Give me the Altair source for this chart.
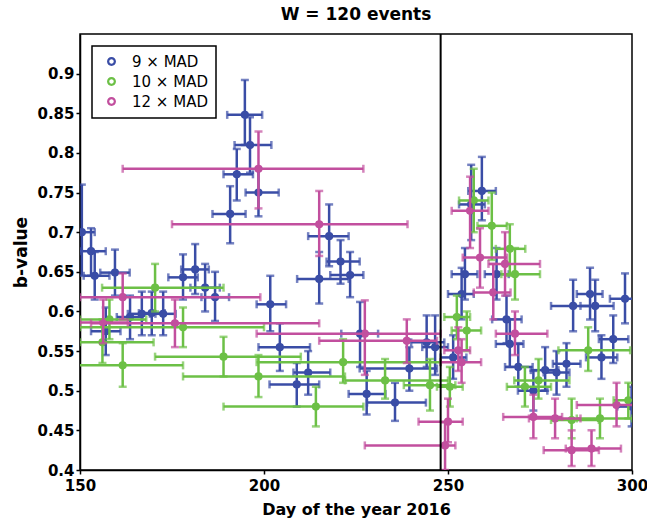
import altair as alt
import pandas as pd

SERIES = ["9 × MAD", "10 × MAD", "12 × MAD"]
COLORS = ["#3a4da6", "#6cc046", "#c24f9e"]
EVENT_DAY = 248

# ---- 9 x MAD (blue) ----
blue_day = [150.5, 153.0, 154.0, 159.5, 157.0, 163.6, 166.8, 169.5, 172.6, 178.0, 181.3, 184.0, 186.7,
            190.8, 192.6, 194.8, 196.2, 198.5, 201.7, 204.3, 208.9, 212.0, 215.0, 217.7, 220.8, 223.4,
            226.1, 227.9, 235.6, 239.5, 244.2, 246.5, 251.4, 253.7, 254.6, 256.3, 259.2, 263.2, 265.9,
            266.8, 269.1, 273.2, 276.4, 279.5, 282.2, 284.0, 288.6, 290.0, 291.7, 294.9, 298.1, 299.9]
blue_b = [0.700, 0.676, 0.645, 0.649, 0.575, 0.593, 0.597, 0.598, 0.597, 0.643, 0.653, 0.630, 0.618,
          0.723, 0.773, 0.848, 0.810, 0.750, 0.609, 0.555, 0.508, 0.523, 0.641, 0.695, 0.663, 0.646,
          0.572, 0.496, 0.485, 0.528, 0.561, 0.555, 0.542, 0.622, 0.647, 0.735, 0.752, 0.647, 0.590,
          0.559, 0.530, 0.500, 0.526, 0.523, 0.534, 0.607, 0.622, 0.607, 0.542, 0.565, 0.616, 0.480]
blue_day_lo = [147, 150, 151, 155.5, 153, 160, 163, 166, 169, 174, 177.5, 180, 183,
               186, 189, 190, 192, 195, 198, 198.5, 201.5, 208, 209, 212, 217, 218,
               221, 223, 228, 226, 240, 243, 248, 250, 251, 253, 255.5, 260, 262,
               263, 265.5, 269, 272.5, 276, 278.5, 278, 285, 286, 287.5, 291, 294, 296]
blue_day_hi = [154, 157, 158, 163.5, 161, 167, 170.5, 173, 176, 182, 185, 188, 190.5,
               195, 197, 199.5, 202, 204, 206, 212.5, 215, 218, 223, 223, 226, 227,
               231, 233, 244, 247, 249, 250, 255, 257, 258, 260, 263, 266.5, 270,
               270.5, 273, 277, 280, 283, 286, 290, 292, 295, 296, 299, 302, 303]
blue_b_lo = [0.645, 0.645, 0.615, 0.620, 0.545, 0.565, 0.570, 0.570, 0.570, 0.615, 0.622, 0.600, 0.588,
             0.686, 0.740, 0.810, 0.775, 0.720, 0.575, 0.525, 0.480, 0.495, 0.610, 0.657, 0.635, 0.618,
             0.530, 0.470, 0.462, 0.500, 0.530, 0.520, 0.515, 0.590, 0.615, 0.690, 0.715, 0.615, 0.560,
             0.530, 0.505, 0.475, 0.500, 0.495, 0.505, 0.575, 0.590, 0.575, 0.515, 0.535, 0.585, 0.455]
blue_b_hi = [0.760, 0.705, 0.675, 0.678, 0.605, 0.620, 0.625, 0.625, 0.625, 0.672, 0.685, 0.660, 0.650,
             0.758, 0.805, 0.892, 0.845, 0.780, 0.645, 0.585, 0.535, 0.550, 0.675, 0.735, 0.690, 0.675,
             0.612, 0.525, 0.510, 0.555, 0.595, 0.595, 0.570, 0.655, 0.680, 0.785, 0.795, 0.680, 0.620,
             0.590, 0.560, 0.525, 0.555, 0.550, 0.560, 0.640, 0.655, 0.640, 0.570, 0.595, 0.648, 0.505]

# ---- 10 x MAD (green) ----
green_day = [156.1, 158.0, 161.6, 170.4, 178.0, 189.0, 198.5, 214.1, 221.5, 232.9, 245.1, 250.5,
             252.4, 255.1, 257.0, 261.9, 266.8, 268.2, 270.9, 274.6, 283.6, 288.1, 291.3, 299.0]
green_b = [0.561, 0.590, 0.532, 0.630, 0.580, 0.543, 0.518, 0.480, 0.536, 0.513, 0.507, 0.505,
           0.593, 0.576, 0.740, 0.708, 0.679, 0.647, 0.505, 0.513, 0.463, 0.551, 0.465, 0.488]
green_day_lo = [150, 150, 146, 156, 150, 170.4, 178, 189, 198, 222, 238, 247,
                249, 251, 253, 258, 263, 264.5, 266, 268, 278, 280, 285, 295]
green_day_hi = [170, 168, 178, 189, 200, 210, 222, 227, 248, 250, 252, 254,
                256, 259, 261, 266, 271, 275, 278, 283, 291, 299.5, 300, 303]
green_b_lo = [0.535, 0.565, 0.505, 0.600, 0.555, 0.518, 0.492, 0.455, 0.510, 0.490, 0.475, 0.480,
              0.565, 0.550, 0.700, 0.665, 0.645, 0.615, 0.480, 0.490, 0.440, 0.525, 0.440, 0.465]
green_b_hi = [0.590, 0.615, 0.560, 0.660, 0.605, 0.568, 0.545, 0.505, 0.565, 0.540, 0.540, 0.530,
              0.620, 0.600, 0.780, 0.750, 0.710, 0.680, 0.530, 0.540, 0.490, 0.580, 0.490, 0.510]

# ---- 12 x MAD (magenta) ----
mag_day = [156.3, 161.6, 175.8, 198.5, 215.0, 227.4, 238.8, 250.0, 249.2, 252.8, 253.7, 256.0,
           258.7, 262.3, 265.5, 268.2, 273.2, 279.1, 283.6, 289.0, 295.8]
mag_b = [0.586, 0.618, 0.585, 0.780, 0.710, 0.572, 0.563, 0.461, 0.431, 0.551, 0.536, 0.727,
         0.668, 0.624, 0.660, 0.572, 0.467, 0.465, 0.425, 0.427, 0.482]
mag_day_lo = [150, 150, 153, 161.6, 175, 198, 215, 242, 227.4, 249, 248, 251,
              254, 257, 261, 263, 265, 272, 276, 282, 285]
mag_day_hi = [163, 199, 215, 227, 239, 248, 247, 254, 252, 256, 259, 261,
              266, 267, 275, 277, 281, 286, 291, 297, 303]
mag_b_lo = [0.560, 0.590, 0.555, 0.730, 0.670, 0.520, 0.535, 0.435, 0.400, 0.525, 0.510, 0.680,
            0.630, 0.590, 0.620, 0.545, 0.440, 0.440, 0.405, 0.405, 0.455]
mag_b_hi = [0.615, 0.648, 0.615, 0.827, 0.752, 0.614, 0.590, 0.490, 0.460, 0.580, 0.565, 0.770,
            0.705, 0.660, 0.700, 0.600, 0.495, 0.490, 0.450, 0.450, 0.510]

Y_TICKS = [0.4, 0.45, 0.5, 0.55, 0.6, 0.65, 0.7, 0.75, 0.8, 0.85, 0.9]
X_TICKS = [150, 200, 250, 300]

rows = []
for name, d, b, dl, dh, bl, bh in [
    (SERIES[0], blue_day, blue_b, blue_day_lo, blue_day_hi, blue_b_lo, blue_b_hi),
    (SERIES[1], green_day, green_b, green_day_lo, green_day_hi, green_b_lo, green_b_hi),
    (SERIES[2], mag_day, mag_b, mag_day_lo, mag_day_hi, mag_b_lo, mag_b_hi),
]:
    for i in range(len(d)):
        rows.append(dict(series=name, key=name, day=d[i], b=b[i], day_lo=dl[i], day_hi=dh[i],
                         b_lo=bl[i], b_hi=bh[i]))
df = pd.DataFrame(rows)

FONT = "DejaVu Sans"
xs = alt.Scale(domain=[150, 300], nice=False, zero=False)
ys = alt.Scale(domain=[0.4, 0.95], nice=False, zero=False)
xaxis = alt.Axis(values=X_TICKS, title="Day of the year 2016", format="d", labelFlush=False)
yaxis = alt.Axis(values=Y_TICKS, title="b-value", format="~g", labelFlush=False)
cscale = alt.Scale(domain=SERIES, range=COLORS)

# ring-shaped legend symbol (open circle), filled with the series colour
RING = ("M0,-1A1,1,0,1,1,0,1A1,1,0,1,1,0,-1Z"
        "M0,-0.5A0.5,0.5,0,1,0,0,0.5A0.5,0.5,0,1,0,0,-0.5Z")


def X(f):
    return alt.X(f + ":Q", scale=xs, axis=xaxis)


def Y(f):
    return alt.Y(f + ":Q", scale=ys, axis=yaxis)


def C():
    return alt.Color("series:N", scale=cscale, legend=None)


base = alt.Chart(df)

rings = base.mark_point(filled=False, size=36, strokeWidth=2.2, opacity=1, clip=True).encode(
    x=X("day"), y=Y("b"),
    stroke=alt.Stroke("key:N", scale=alt.Scale(domain=SERIES, range=COLORS),
                      legend=alt.Legend(title=None, orient="top-left", symbolType=RING,
                                        symbolStrokeWidth=0, symbolOpacity=1)),
)

layers = [rings]
SW = 2.5
for s in SERIES:
    sub = base.transform_filter(alt.datum.series == s)
    layers.append(sub.mark_rule(strokeWidth=SW, clip=True).encode(x=X("day_lo"), x2="day_hi:Q", y=Y("b"), color=C()))
    layers.append(sub.mark_rule(strokeWidth=SW, clip=True).encode(x=X("day"), y=Y("b_lo"), y2="b_hi:Q", color=C()))
    layers.append(sub.mark_tick(orient="vertical", size=8, thickness=SW, clip=True).encode(x=X("day_lo"), y=Y("b"), color=C()))
    layers.append(sub.mark_tick(orient="vertical", size=8, thickness=SW, clip=True).encode(x=X("day_hi"), y=Y("b"), color=C()))
    layers.append(sub.mark_tick(orient="horizontal", size=8, thickness=SW, clip=True).encode(x=X("day"), y=Y("b_lo"), color=C()))
    layers.append(sub.mark_tick(orient="horizontal", size=8, thickness=SW, clip=True).encode(x=X("day"), y=Y("b_hi"), color=C()))
    layers.append(sub.mark_circle(size=45, opacity=1, clip=True).encode(x=X("day"), y=Y("b"), color=C()))

vline = alt.Chart(pd.DataFrame({"day": [EVENT_DAY]})).mark_rule(color="black", strokeWidth=2).encode(x=X("day"))

chart = alt.layer(*layers, vline).properties(
    width=552, height=436,
    padding={"left": 80, "top": 34, "right": 15, "bottom": 57},
    autosize=alt.AutoSizeParams(type="none"),
    title=alt.TitleParams("W = 120 events", font=FONT, fontSize=17, fontWeight="bold", offset=9, color="black"),
).configure_view(stroke="black", strokeWidth=1.5).configure_axis(
    grid=False, domainColor="black", domainWidth=1.5, tickColor="black", tickSize=4, tickWidth=1.5,
    labelFont=FONT, labelFontSize=15, labelFontWeight="bold", labelColor="black",
    titleFont=FONT, titleFontSize=16, titleFontWeight="bold", titleColor="black",
).configure_axisY(titlePadding=6, labelPadding=2, titleFontSize=17).configure_axisX(titlePadding=8, labelPadding=4).configure_legend(
    strokeColor="black", strokeWidth=1.5, fillColor="white", padding=8, offset=12,
    labelFont=FONT, labelFontSize=15, labelColor="black", symbolSize=80,
    rowPadding=4, labelOffset=13, symbolOffset=4,
)

chart.save("out.html", embed_options={"renderer": "svg", "actions": False})
